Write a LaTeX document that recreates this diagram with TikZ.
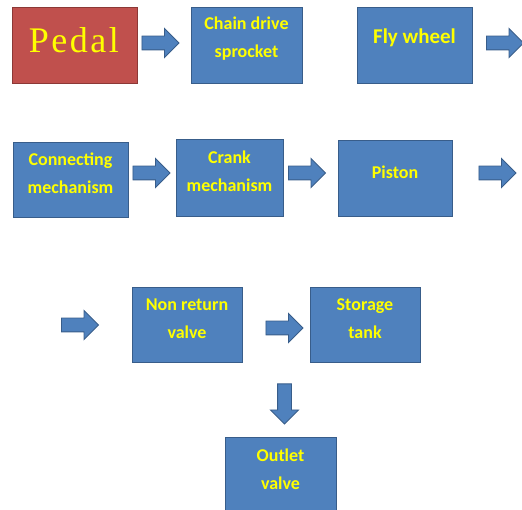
\documentclass[tikz,border=0pt]{standalone}
\usepackage{fontspec}
\setmainfont{Carlito}
\newfontfamily\pedalfont[LetterSpace=7]{Liberation Serif}
\usetikzlibrary{shapes.arrows}
\definecolor{boxblue}{RGB}{79,129,189}
\definecolor{boxedge}{RGB}{56,93,138}
\definecolor{pedalred}{RGB}{192,80,77}
\definecolor{pedaledge}{RGB}{140,56,54}
\definecolor{txtyellow}{RGB}{255,255,0}
\tikzset{every picture/.style={line width=1.05pt}}
\tikzset{
  block/.style={draw=boxedge,fill=boxblue,inner sep=0pt,anchor=north west},
  blocktext/.style={text=txtyellow,font=\fontsize{18}{28}\selectfont\bfseries,align=center,inner sep=0.75pt},
  fatarrow/.style={single arrow,draw=boxedge,fill=boxblue,line width=0.9pt,minimum height=37,single arrow head extend=7.5,inner xsep=0pt,inner ysep=6.5pt,anchor=tail}
}

\begin{document}
\begin{tikzpicture}[x=1pt,y=1pt,yscale=-1,xscale=1]
\useasboundingbox (0,0) rectangle (522,510);

%Shape: Rectangle (pedal)
\draw (12,7) node [block,draw=pedaledge,fill=pedalred,minimum width=125,minimum height=76] (pedal) {};
%Shape: Rectangle (chain drive)
\draw (191,7) node [block,minimum width=111,minimum height=76] (chain) {};
%Shape: Rectangle (fly wheel)
\draw (357,7) node [block,minimum width=115,minimum height=76] (fly) {};
%Shape: Rectangle (connecting)
\draw (13,142) node [block,minimum width=115,minimum height=75] (connect) {};
%Shape: Rectangle (crank)
\draw (176,139) node [block,minimum width=107,minimum height=77] (crank) {};
%Shape: Rectangle (piston)
\draw (338,140) node [block,minimum width=114,minimum height=76] (piston) {};
%Shape: Rectangle (non return valve)
\draw (132,287) node [block,minimum width=110,minimum height=75] (nonret) {};
%Shape: Rectangle (storage tank)
\draw (310,287) node [block,minimum width=110,minimum height=75] (storage) {};
%Shape: Rectangle (outlet valve)
\draw (225,437) node [block,minimum width=111,minimum height=80] (outlet) {};

%Shape: Right Arrow
\draw (141.5,43) node [fatarrow] (arrA) {};
%Shape: Right Arrow
\draw (486,43) node [fatarrow] (arrB) {};
%Shape: Right Arrow
\draw (132.5,173) node [fatarrow] (arrC) {};
%Shape: Right Arrow
\draw (288,173) node [fatarrow] (arrD) {};
%Shape: Right Arrow
\draw (478.5,173) node [fatarrow] (arrE) {};
%Shape: Right Arrow
\draw (61,325) node [fatarrow] (arrF) {};
%Shape: Right Arrow
\draw (265.5,328) node [fatarrow] (arrG) {};
%Shape: Down Arrow
\draw (284.5,383.5) node [fatarrow,shape border rotate=270,minimum height=40,single arrow head extend=7,inner xsep=6.5pt,inner ysep=0pt] (arrH) {};

% Text Node
\draw (74,40) node [inner sep=0.75pt,text=txtyellow,font=\fontsize{36}{40}\pedalfont] (pedaltxt) {Pedal};
% Text Node
\draw (246.5,39) node [blocktext] (chaintxt) {Chain drive\\sprocket};
% Text Node
\draw (414.5,38) node [blocktext,font=\fontsize{21}{28}\selectfont\bfseries] (flytxt) {Fly wheel};
% Text Node
\draw (70.5,173) node [blocktext] (connecttxt) {Connecting\\mechanism};
% Text Node
\draw (229.5,171) node [blocktext] (cranktxt) {Crank\\mechanism};
% Text Node
\draw (395,172) node [blocktext] (pistontxt) {Piston};
% Text Node
\draw (187,319) node [blocktext] (nonrettxt) {Non return\\valve};
% Text Node
\draw (365,319) node [blocktext] (storagetxt) {Storage\\tank};
% Text Node
\draw (280.5,469) node [blocktext] (outlettxt) {Outlet\\valve};

\end{tikzpicture}
\end{document}
